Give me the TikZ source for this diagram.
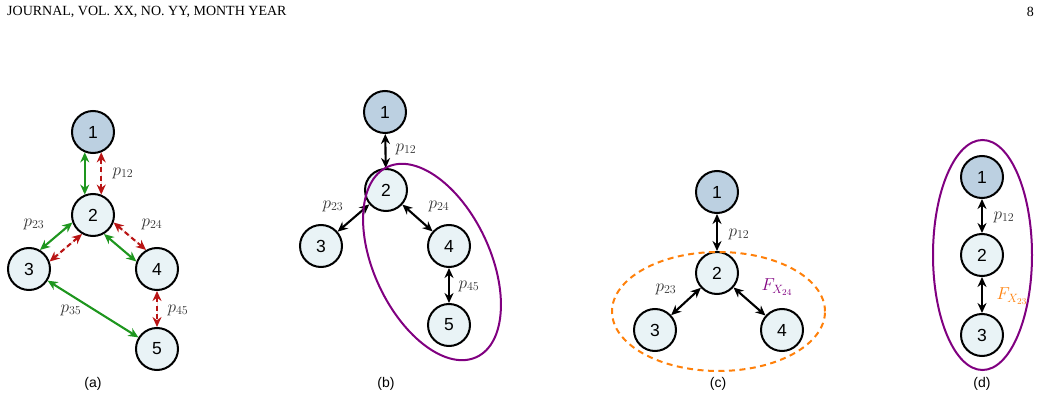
\documentclass[tikz,border=0pt]{standalone}
\usepackage{fontspec}
\setmainfont{Liberation Serif}
\setsansfont{Liberation Sans}
\usetikzlibrary{arrows.meta,calc}
\definecolor{nodeblue}{RGB}{188,208,225}
\definecolor{nodelight}{RGB}{233,243,246}
\definecolor{egreen}{RGB}{30,150,30}
\definecolor{ered}{RGB}{185,20,20}
\definecolor{epurple}{RGB}{128,0,128}
\definecolor{eorange}{RGB}{255,128,10}
\begin{document}
\begin{tikzpicture}[x=1pt,y=-1pt,
  nd/.style={circle, draw, line width=2pt, minimum size=42pt, inner sep=0pt,
    font=\sffamily\fontsize{17.5}{17.5}\selectfont, fill=nodelight},
  root/.style={nd, fill=nodeblue},
  tips/.style={{Stealth[length=10pt,width=9pt]}-{Stealth[length=10pt,width=9pt]}},
  garr/.style={tips, draw=egreen, fill=egreen, line width=2.1pt},
  rarr/.style={tips, draw=ered, fill=ered, line width=2.1pt, dash pattern=on 5pt off 3.5pt},
  barr/.style={tips, draw=black, fill=black, line width=2.1pt},
  lbl/.style={font=\fontsize{18}{18}\selectfont, text=black!80, inner sep=0pt},
  capt/.style={font=\sffamily\fontsize{14}{14}\selectfont, inner sep=0pt},
  hdr/.style={font=\fontsize{14}{14}\selectfont, inner sep=0pt},
  ell/.style={line width=2pt}
]
\useasboundingbox (0,0) rectangle (1042,403);

% header
\node[hdr, anchor=west] (head) at (7,12) {JOURNAL, VOL. XX, NO. YY, MONTH YEAR};
\node[hdr, anchor=east] (pg) at (1034,12) {8};

% ---------- (a)
\node[root] (a1) at (93,132) {1};
\node[nd] (a2) at (93,215) {2};
\node[nd] (a3) at (29,269) {3};
\node[nd] (a4) at (157,269) {4};
\node[nd] (a5) at (157,349) {5};
\draw[garr] (a1.248) -- (a2.112);
\draw[rarr] (a1.292) -- (a2.68);
\draw[garr] (a2.200) -- (a3.60);
\draw[rarr] (a2.240) -- (a3.20);
\draw[rarr] (a2.340) -- (a4.120);
\draw[garr] (a2.300) -- (a4.160);
\draw[garr] (a3) -- (a5);
\draw[rarr] (a4) -- (a5);
\node[lbl] (la12) at (123,173) {$p_{12}$};
\node[lbl] (la23) at (34,224) {$p_{23}$};
\node[lbl] (la24) at (152,224) {$p_{24}$};
\node[lbl] (la35) at (71,310) {$p_{35}$};
\node[lbl] (la45) at (178,310) {$p_{45}$};
\node[capt] (ca) at (93,384) {(a)};

% ---------- (b)
\node[root] (b1) at (385,112) {1};
\node[nd] (b2) at (386,190) {2};
\node[nd] (b3) at (321,246) {3};
\node[nd] (b4) at (449,246) {4};
\node[nd] (b5) at (449,325) {5};
\draw[barr] (b1) -- (b2);
\draw[barr] (b2) -- (b3);
\draw[barr] (b2) -- (b4);
\draw[barr] (b4) -- (b5);
\coordinate (bc) at (432,262);
\draw[ell, epurple, rotate around={-64.8:(bc)}] (bc) ellipse [x radius=105pt, y radius=58pt];
\node[lbl] (lb12) at (406,149) {$p_{12}$};
\node[lbl] (lb23) at (333,206) {$p_{23}$};
\node[lbl] (lb24) at (439,206) {$p_{24}$};
\node[lbl] (lb45) at (469,286) {$p_{45}$};
\node[capt] (cb) at (386,384) {(b)};

% ---------- (c)
\node[root] (c1) at (717,192) {1};
\node[nd] (c2) at (717,273) {2};
\node[nd] (c3) at (655,330) {3};
\node[nd] (c4) at (782,330) {4};
\draw[barr] (c1) -- (c2);
\draw[barr] (c2) -- (c3);
\draw[barr] (c2) -- (c4);
\coordinate (cc) at (718.5,311.5);
\draw[ell, eorange, dash pattern=on 6pt off 4.5pt] (cc) ellipse [x radius=106.5pt, y radius=59.5pt];
\node[lbl] (lc12) at (739,234) {$p_{12}$};
\node[lbl] (lc23) at (666,289) {$p_{23}$};
\node[lbl, text=epurple] (lc24) at (777,287) {$F_{X_{24}}$};
\node[capt] (cc2) at (718,384) {(c)};

% ---------- (d)
\node[root] (d1) at (982,177) {1};
\node[nd] (d2) at (982,255) {2};
\node[nd] (d3) at (982,335) {3};
\draw[barr] (d1) -- (d2);
\draw[barr] (d2) -- (d3);
\coordinate (dc) at (982.5,255);
\draw[ell, epurple] (dc) ellipse [x radius=49.5pt, y radius=115pt];
\node[lbl] (ld12) at (1004,217) {$p_{12}$};
\node[lbl, text=eorange] (ld23) at (1012,296) {$F_{X_{23}}$};
\node[capt] (cd) at (982,384) {(d)};
\end{tikzpicture}
\end{document}
